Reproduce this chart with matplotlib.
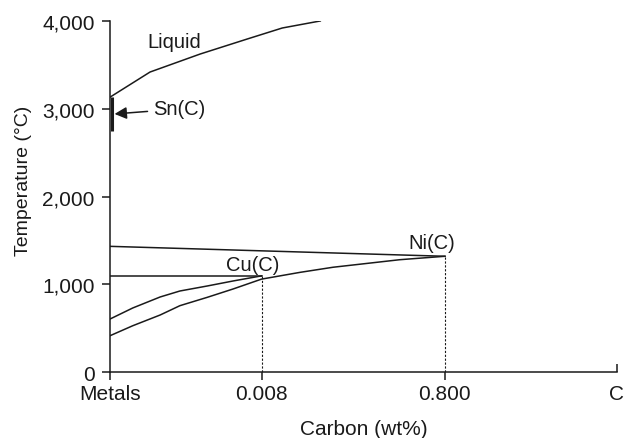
import matplotlib
matplotlib.use("Agg")
import matplotlib.pyplot as plt

plt.rcParams['font.family'] = ['Liberation Sans', 'DejaVu Sans']

# x positions are on a 0-100 composition scale between "Metals" and "C"
tick_pos = [0, 29.9, 66.1]
tick_labels = ['Metals', '0.008', '0.800']
end_pos = [100]
end_label = ['C']

liquid_x = [0, 7.9, 17.8, 27.1, 34.0, 41.5]
liquid_t = [3130, 3416, 3621, 3792, 3917, 3997]

sn_x = [0.3, 0.3]
sn_t = [3130, 2745]

cu_hor_x = [0, 29.9]
cu_hor_t = [1097, 1097]
cu_curve_x = [0, 4.5, 9.9, 13.8, 19.2, 24.3, 29.9]
cu_curve_t = [606, 732, 857, 925, 982, 1039, 1097]

ni_top_x = [0, 66.1]
ni_top_t = [1433, 1320]
ni_curve_x = [0, 4.5, 9.9, 13.8, 19.2, 24.3, 29.9, 37.5, 44.0, 57.2, 66.1]
ni_curve_t = [416, 530, 652, 758, 853, 948, 1060, 1137, 1195, 1281, 1320]

cu_point = (29.9, 1097)
ni_point = (66.1, 1320)

yticks = [0, 1000, 2000, 3000, 4000]
ytick_labels = ['0', '1,000', '2,000', '3,000', '4,000']

fs = 15
fa = 14.5
col = '#1a1a1a'

fig = plt.figure(figsize=(6.27, 4.39), dpi=100)
ax = fig.add_axes([110/627, 1 - 373.3/439, 506.7/627, 351.6/439])

lw = 1.1
ax.plot(liquid_x, liquid_t, color=col, lw=lw)
ax.plot(sn_x, sn_t, color=col, lw=2.2, solid_capstyle='butt')
ax.plot(cu_hor_x, cu_hor_t, color=col, lw=lw)
ax.plot(cu_curve_x, cu_curve_t, color=col, lw=lw)
ax.plot(ni_top_x, ni_top_t, color=col, lw=lw)
ax.plot(ni_curve_x, ni_curve_t, color=col, lw=lw)

for px, pt in (cu_point, ni_point):
    ax.plot([px, px], [0, pt], color=col, lw=0.8, linestyle=(0, (2, 1.5)))

ax.text(7.3, 3769, 'Liquid', fontsize=fa, va='center', ha='left', color=col)
ax.text(22.9, 1232, 'Cu(C)', fontsize=fa, va='center', ha='left', color=col)
ax.text(63.5, 1479, 'Ni(C)', fontsize=fa, va='center', ha='center', color=col)
ax.annotate('Sn(C)', xy=(0.9, 2939), xytext=(8.5, 2996), fontsize=fa,
            va='center', ha='left', color=col,
            arrowprops=dict(arrowstyle='-|>', color=col, lw=1.1,
                            mutation_scale=18, shrinkA=2, shrinkB=0))

ax.set_xlim(0, 100)
ax.set_ylim(0, 4000)
ax.spines['top'].set_visible(False)
ax.spines['right'].set_visible(False)
for s in ('left', 'bottom'):
    ax.spines[s].set_linewidth(1.1)
    ax.spines[s].set_color(col)

ax.set_xticks(tick_pos, labels=tick_labels)
ax.set_xticks(end_pos, labels=end_label, minor=True)
ax.set_yticks(yticks, labels=ytick_labels)
ax.tick_params(axis='x', which='major', direction='out', length=6, width=1.1,
               pad=2.5, labelsize=fs, colors=col)
ax.tick_params(axis='x', which='minor', direction='in', length=6, width=1.1,
               pad=8.5, labelsize=fs, colors=col)
ax.tick_params(axis='y', direction='out', length=6, width=1.1, pad=5,
               labelsize=fs, colors=col)

ax.set_xlabel('Carbon (wt%)', fontsize=fs, color=col)
ax.xaxis.set_label_coords(0.5, -0.133)
ax.set_ylabel('Temperature (°C)', fontsize=14, color=col)
ax.yaxis.set_label_coords(-0.1545, 0.547)

fig.savefig('out.png', dpi=100)
